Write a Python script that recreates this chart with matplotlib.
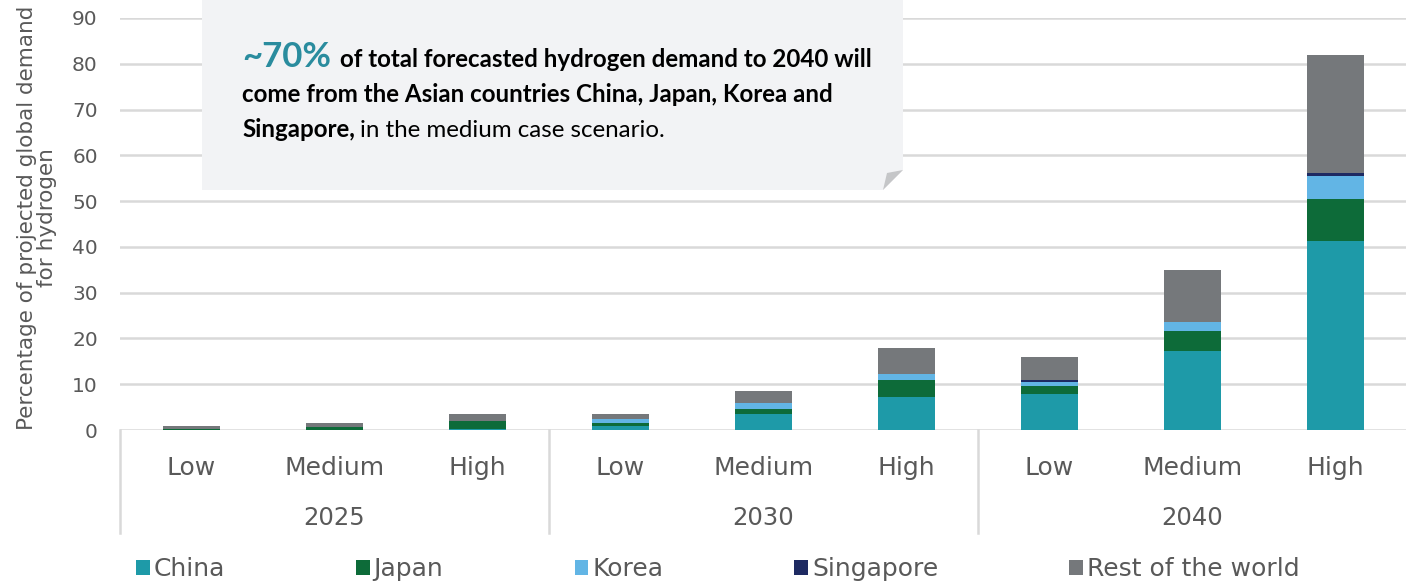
import numpy as np
import matplotlib
matplotlib.use("Agg")
import matplotlib.pyplot as plt
from matplotlib.patches import Polygon, Patch

W, H = 1406, 585

cases = ["Low", "Medium", "High"] * 3
years = ["2025", "2030", "2040"]
series = ["China", "Japan", "Korea", "Singapore", "Rest of the world"]
colors = ["#1E9AA8", "#0D6B39", "#62B5E5", "#1E2A62", "#75787B"]

china = [0.1, 0.1, 0.2, 0.9, 3.4, 7.2, 7.9, 17.2, 41.2]
japan = [0.1, 0.6, 1.8, 0.7, 1.15, 3.7, 1.8, 4.4, 9.2]
korea = [0.0, 0.0, 0.0, 0.7, 1.3, 1.3, 0.7, 1.9, 5.1]
singapore = [0.0, 0.0, 0.0, 0.0, 0.05, 0.05, 0.5, 0.1, 0.65]
rest = [0.7, 0.8, 1.4, 1.1, 2.55, 5.6, 5.1, 11.3, 25.7]
values = [china, japan, korea, singapore, rest]

grey = "#595959"
grid = "#D9D9D9"

fig = plt.figure(figsize=(W / 100, H / 100), dpi=100)
ax = fig.add_axes([120 / W, 155 / H, 1287 / W, 412 / H])

x = np.arange(len(cases))
bottom = np.zeros(len(cases))
for name, vals, c in zip(series, values, colors):
    ax.bar(x, vals, 0.405, bottom=bottom, color=c, label=name, zorder=2)
    bottom += np.array(vals)

ax.set_xlim(-0.5, 8.5)
ax.set_ylim(0, 90)
ax.set_yticks(range(0, 91, 10))
ax.yaxis.grid(True, color=grid, lw=1.8)
ax.set_axisbelow(True)
ax.tick_params(axis="y", length=0, pad=16, labelsize=14.5, labelcolor=grey)
ax.set_xticks([])
for s in ax.spines.values():
    s.set_visible(False)

# two-level category axis
tr = ax.get_xaxis_transform()
for xs in [-0.5, 2.5, 5.5]:
    ax.plot([xs, xs], [0, -0.25], color=grid, lw=1.8, transform=tr, clip_on=False)
for xi, lab in zip(x, cases):
    ax.text(xi, -0.092, lab, transform=tr, ha="center", va="center",
            fontsize=18, color=grey)
for i, yr in enumerate(years):
    ax.text(3 * i + 1, -0.213, yr, transform=tr, ha="center", va="center",
            fontsize=17.5, color=grey)

fig.text(37 / W, 1 - 218 / H, "Percentage of projected global demand\nfor hydrogen",
         rotation=90, ha="center", va="center", fontsize=15.5, color=grey,
         multialignment="center", linespacing=1.05)

handles = [Patch(facecolor=c, edgecolor="none") for c in colors]
leg = fig.legend(handles, series, loc="center left", bbox_to_anchor=(136 / W, 1 - 569 / H),
                 ncol=5, frameon=False, fontsize=18, handlelength=0.55, handleheight=0.55,
                 handletextpad=0.15, columnspacing=5.25, borderpad=0, borderaxespad=0)
for t in leg.get_texts():
    t.set_color(grey)

# callout box with folded corner
box = Polygon([(202 / W, 1), (903 / W, 1), (903 / W, 1 - 170 / H),
               (883 / W, 1 - 190 / H), (202 / W, 1 - 190 / H)],
              closed=True, transform=fig.transFigure, facecolor="#F2F3F5",
              edgecolor="none", zorder=5)
fold = Polygon([(887 / W, 1 - 173 / H), (903 / W, 1 - 170 / H), (883 / W, 1 - 190 / H)],
               closed=True, transform=fig.transFigure, facecolor="#C5C6C8",
               edgecolor="none", zorder=6)
fig.patches.extend([box, fold])

renderer = fig.canvas.get_renderer()


def runs(x0, y0, parts):
    xp = x0
    for txt, gap, kw in parts:
        xp += gap
        t = fig.text(xp / W, 1 - y0 / H, txt, ha="left", va="baseline",
                     family="Lato", zorder=7, **kw)
        xp += t.get_window_extent(renderer).width


runs(242, 67, [("~70%", 0, dict(fontsize=25, weight="bold", color="#2A8C9E")),
               ("of total forecasted hydrogen demand to 2040 will", 9,
                dict(fontsize=17.4, weight="bold", color="black"))])
runs(242, 102, [("come from the Asian countries China, Japan, Korea and", 0,
                 dict(fontsize=17.4, weight="bold", color="black"))])
runs(242, 137, [("Singapore,", 0, dict(fontsize=17.4, weight="bold", color="black")),
                ("in the medium case scenario.", 5, dict(fontsize=17.4, color="black"))])

fig.savefig("out.png", dpi=100)
